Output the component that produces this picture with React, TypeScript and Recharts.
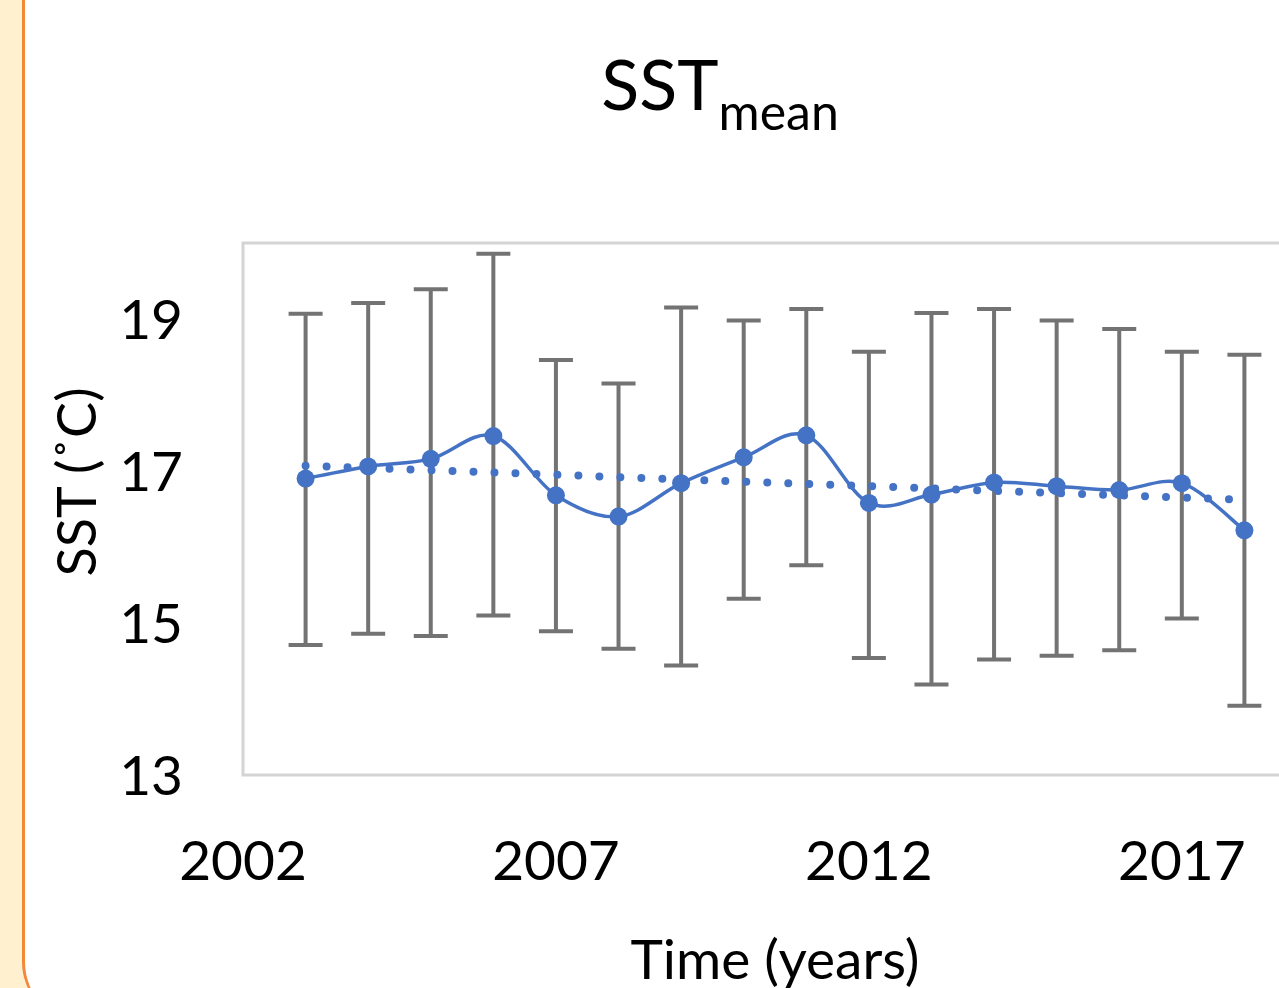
import { LineChart, Line, XAxis, YAxis, ErrorBar, ReferenceLine, ReferenceArea, Label } from 'recharts'

const years = [2003, 2004, 2005, 2006, 2007, 2008, 2009, 2010, 2011, 2012, 2013, 2014, 2015, 2016, 2017, 2018]
const sstMean = [16.9, 17.06, 17.16, 17.46, 16.68, 16.4, 16.84, 17.18, 17.47, 16.58, 16.69, 16.85, 16.8, 16.75, 16.84, 16.22]
const sstHigh = [19.07, 19.21, 19.39, 19.86, 18.46, 18.15, 19.15, 18.98, 19.13, 18.57, 19.08, 19.13, 18.98, 18.87, 18.57, 18.53]
const sstLow = [14.71, 14.86, 14.83, 15.1, 14.89, 14.66, 14.44, 15.32, 15.76, 14.54, 14.19, 14.52, 14.57, 14.64, 15.06, 13.91]
const trendStart = { x: 2003, y: 17.07 }
const trendEnd = { x: 2018, y: 16.62 }
const xTicks = [2002, 2007, 2012, 2017]
const yTicks = [13, 15, 17, 19]

const data = years.map((year, i) => ({
  year,
  mean: sstMean[i],
  err: [sstMean[i] - sstLow[i], sstHigh[i] - sstMean[i]],
}))

const BLUE = '#4472C4'
const FONT = 'Lato, "Open Sans", sans-serif'

// Excel-style smoothed line (Catmull-Rom through every point)
function excelSmooth(context: any) {
  let pts: [number, number][] = []
  return {
    areaStart() {},
    areaEnd() {},
    lineStart() {
      pts = []
    },
    point(x: number, y: number) {
      pts.push([+x, +y])
    },
    lineEnd() {
      if (!pts.length) return
      context.moveTo(pts[0][0], pts[0][1])
      for (let i = 0; i < pts.length - 1; i++) {
        const p0 = pts[i - 1] || pts[i]
        const p1 = pts[i]
        const p2 = pts[i + 1]
        const p3 = pts[i + 2] || p2
        context.bezierCurveTo(
          p1[0] + (p2[0] - p0[0]) / 6,
          p1[1] + (p2[1] - p0[1]) / 6,
          p2[0] - (p3[0] - p1[0]) / 6,
          p2[1] - (p3[1] - p1[1]) / 6,
          p2[0],
          p2[1],
        )
      }
    },
  }
}

export default function App() {
  return (
    <div style={{ position: 'fixed', left: 0, top: 0, width: 1279, height: 988, overflow: 'hidden', background: '#FFF1D0' }}>
      <div
        style={{
          position: 'absolute',
          left: 22,
          top: -100,
          width: 1500,
          height: 1122,
          background: '#fff',
          borderLeft: '3px solid #F5873A',
          borderBottomLeftRadius: 60,
        }}
      />
      <svg width={1279} height={988} style={{ position: 'absolute', left: 0, top: 0 }}>
        <text x={720} y={110} textAnchor="middle" fontFamily={FONT} fontSize={70} fill="#000">
          SST
          <tspan fontSize={50} dy={20}>mean</tspan>
        </text>
        <text
          x={96}
          y={482}
          textAnchor="middle"
          transform="rotate(-90 96 482)"
          fontFamily={FONT}
          fontSize={54}
          fill="#000"
        >
          SST (˚C)
        </text>
      </svg>
      <div style={{ position: 'absolute', left: 0, top: 0 }}>
        <LineChart width={1400} height={988} data={data} margin={{ top: 243, right: 93, bottom: 93, left: 0 }}>
          <XAxis
            dataKey="year"
            type="number"
            domain={[2002, 2019]}
            ticks={xTicks}
            axisLine={false}
            tickLine={false}
            tickSize={0}
            tickMargin={66}
            height={120}
            tick={{ fontSize: 55, fill: '#000', fontFamily: FONT }}
          >
            <Label
              content={({ viewBox }: any) => (
                <text
                  x={viewBox.x + viewBox.width / 2}
                  y={979}
                  textAnchor="middle"
                  fontFamily={FONT}
                  fontSize={55}
                  fill="#000"
                >
                  Time (years)
                </text>
              )}
            />
          </XAxis>
          <YAxis
            type="number"
            domain={[13, 20]}
            ticks={yTicks}
            axisLine={false}
            tickLine={false}
            tickSize={0}
            tickMargin={60}
            width={243}
            tick={{ fontSize: 55, fill: '#000', fontFamily: FONT }}
          />
          <ReferenceArea
            x1={2002}
            x2={2019}
            y1={13}
            y2={20}
            fill="none"
            fillOpacity={0}
            stroke="#D4D4D4"
            strokeWidth={3}
            ifOverflow="visible"
          />
          <Line
            dataKey="mean"
            type={excelSmooth as any}
            stroke={BLUE}
            strokeWidth={3.5}
            dot={{ r: 9, fill: BLUE, stroke: BLUE, strokeWidth: 0 }}
            isAnimationActive={false}
          >
            <ErrorBar dataKey="err" direction="y" width={17} stroke="#737373" strokeWidth={4} />
          </Line>
          <ReferenceLine
            segment={[trendStart, trendEnd]}
            stroke={BLUE}
            strokeWidth={8}
            strokeDasharray="0 21"
            strokeLinecap="round"
            ifOverflow="visible"
          />
        </LineChart>
      </div>
    </div>
  )
}
